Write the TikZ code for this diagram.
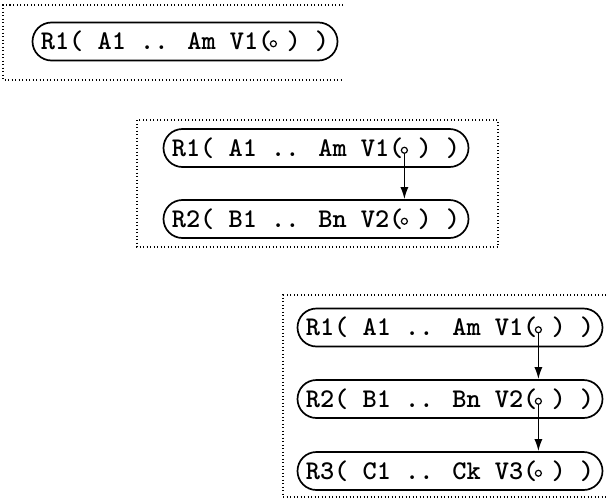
\documentclass[tikz,border=0pt]{standalone}
\usetikzlibrary{arrows.meta,calc}

\begin{document}
\begin{tikzpicture}[x=1pt,y=-1pt,>={Latex[length=12pt,width=8pt]},
  rec node/.style={draw,line width=1.7pt,rounded corners=19pt,minimum width=305pt,minimum height=38pt,inner sep=0pt,font=\ttfamily\bfseries\fontsize{27}{30}\selectfont},
  var dot/.style={circle,draw,line width=1.2pt,fill=white,inner sep=0pt,minimum size=6pt},
  frame/.style={line width=1.1pt,dash pattern=on 1pt off 2.5pt},
  link/.style={->,line width=1.4pt}]
  \useasboundingbox (0,0) rectangle (608,498);

  % frames
  \draw[frame] (343,5) -- (3,5) -- (3,80) -- (343,80);
  \draw[frame] (137,120) rectangle (498,247);
  \draw[frame] (606,295) -- (283,295) -- (283,497) -- (606,497);

  % records
  \node[rec node] (a1) at (185,41.5) {R1( A1 .. Am V1( ) )};

  \node[rec node] (b1) at (316,148) {R1( A1 .. Am V1( ) )};
  \node[rec node] (b2) at (316,219) {R2( B1 .. Bn V2( ) )};

  \node[rec node] (c1) at (450,327.5) {R1( A1 .. Am V1( ) )};
  \node[rec node] (c2) at (450,399) {R2( B1 .. Bn V2( ) )};
  \node[rec node] (c3) at (450,471) {R3( C1 .. Ck V3( ) )};

  % variable slots
  \foreach \r in {a1,b1,b2,c1,c2,c3}
    \node[var dot] (\r v) at ($(\r.text)+(232.5pt,6pt)$) {};

  % links
  \draw[link] (b1v) -- (b1v |- b2.north);
  \draw[link] (c1v) -- (c1v |- c2.north);
  \draw[link] (c2v) -- (c2v |- c3.north);
\end{tikzpicture}
\end{document}
